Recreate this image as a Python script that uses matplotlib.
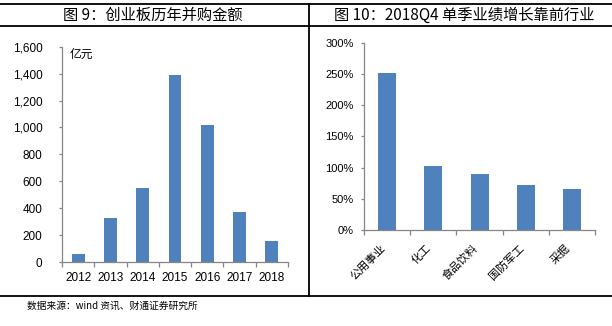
import matplotlib
matplotlib.use("Agg")
import matplotlib.pyplot as plt
from matplotlib.lines import Line2D
from matplotlib.ticker import FuncFormatter, MultipleLocator

plt.rcParams["font.family"] = ["Liberation Sans", "Noto Sans CJK SC", "DejaVu Sans"]

BAR_COLOR = "#4F81BD"
AXIS_COLOR = "#868686"
FRAME_COLOR = "#000000"

# 创业板历年并购金额（亿元）
years = ["2012", "2013", "2014", "2015", "2016", "2017", "2018"]
ma_amount = [60, 330, 551, 1390, 1017, 372, 158]

# 2018Q4 单季业绩增速（%）
industries = ["公用事业", "化工", "食品饮料", "国防军工", "采掘"]
growth_pct = [252, 103, 90, 72, 66]

left_title = "图 9：创业板历年并购金额"
right_title = "图 10：2018Q4 单季业绩增长靠前行业"
source_note = "数据来源：wind 资讯、财通证券研究所"


def style_axes(ax, n):
    for side in ["top", "right"]:
        ax.spines[side].set_visible(False)
    for side in ["left", "bottom"]:
        ax.spines[side].set_color(AXIS_COLOR)
        ax.spines[side].set_linewidth(0.9)
    ax.set_xlim(-0.5, n - 0.5)
    # category boundary ticks, like a spreadsheet chart
    ax.set_xticks([i - 0.5 for i in range(n + 1)], minor=True)
    ax.tick_params(axis="x", which="minor", direction="out", length=3.5,
                   color=AXIS_COLOR, width=0.9)
    ax.tick_params(axis="x", which="major", length=0)
    ax.tick_params(axis="y", direction="out", length=2.5, color=AXIS_COLOR, width=0.9)


fig = plt.figure(figsize=(6.12, 3.26), dpi=100)

# left panel: M&A amount
ax1 = fig.add_axes([0.1013, 0.1963, 0.3693, 0.6604])
ax1.bar(range(len(years)), ma_amount, width=0.4, color=BAR_COLOR)
style_axes(ax1, len(years))
ax1.set_ylim(0, 1600)
ax1.yaxis.set_major_locator(MultipleLocator(200))
ax1.yaxis.set_major_formatter(FuncFormatter(lambda v, p: f"{v:,.0f}"))
ax1.set_xticks(range(len(years)))
ax1.set_xticklabels(years)
ax1.tick_params(axis="y", labelsize=8.5, pad=11.5)
ax1.tick_params(axis="x", which="major", labelsize=8.5, pad=7)
ax1.text(0.035, 0.966, "亿元", transform=ax1.transAxes, fontsize=8.5,
         va="center", ha="left", family=["Noto Sans CJK SC"])

# right panel: quarterly growth by industry
ax2 = fig.add_axes([0.5948, 0.2945, 0.3775, 0.5745])
ax2.bar(range(len(industries)), growth_pct, width=0.39, color=BAR_COLOR)
style_axes(ax2, len(industries))
ax2.set_ylim(0, 300)
ax2.yaxis.set_major_locator(MultipleLocator(50))
ax2.yaxis.set_major_formatter(FuncFormatter(lambda v, p: f"{v:.0f}%"))
ax2.set_xticks(range(len(industries)))
ax2.set_xticklabels(industries, rotation=45, ha="right", family=["Noto Sans CJK SC"])
ax2.tick_params(axis="y", labelsize=8, pad=5)
ax2.tick_params(axis="x", which="major", labelsize=8, pad=9)

# frame lines and titles
for y in [1 - 4 / 326, 1 - 26 / 326, 1 - 296 / 326]:
    fig.add_artist(Line2D([0, 1], [y, y], color=FRAME_COLOR, lw=1.3))
fig.add_artist(Line2D([309 / 612, 309 / 612], [1 - 4 / 326, 1 - 296 / 326],
                      color=FRAME_COLOR, lw=1.3))

fig.text(153 / 612, 1 - 15 / 326, left_title, fontsize=11, ha="center", va="center",
         family=["Noto Sans CJK SC"])
fig.text(464 / 612, 1 - 15 / 326, right_title, fontsize=11, ha="center", va="center",
         family=["Noto Sans CJK SC"])
fig.text(27 / 612, 1 - 306 / 326, source_note, fontsize=7, ha="left", va="center",
         family=["Noto Sans CJK SC"])

fig.savefig("out.png", dpi=100)
